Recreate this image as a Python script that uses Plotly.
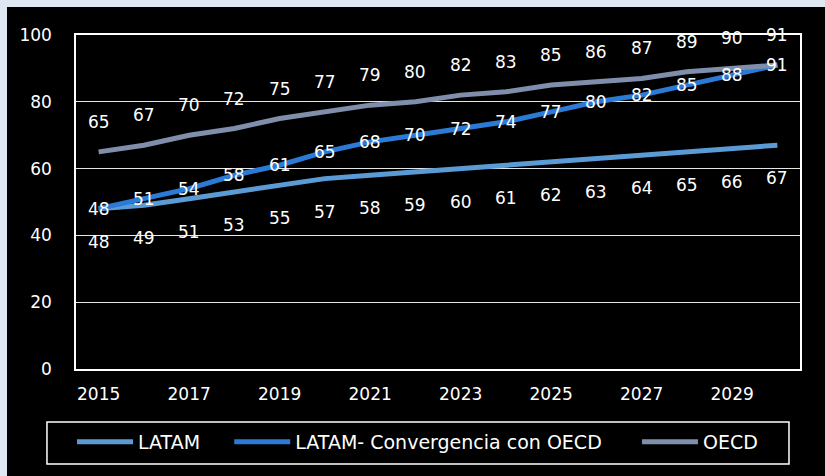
import plotly.graph_objects as go

years = [str(y) for y in range(2015, 2031)]
latam = [48, 49, 51, 53, 55, 57, 58, 59, 60, 61, 62, 63, 64, 65, 66, 67]
convergencia = [48, 51, 54, 58, 61, 65, 68, 70, 72, 74, 77, 80, 82, 85, 88, 91]
oecd = [65, 67, 70, 72, 75, 77, 79, 80, 82, 83, 85, 86, 87, 89, 90, 91]
tick_years = years[::2]

FONT = "DejaVu Sans"
NB = "\u00a0"  # extra room between legend entries

# name, values, colour, label shift (px)
series = [
    ("LATAM" + NB * 4, latam, "#5b9bd5", -33),
    ("LATAM- Convergencia con OECD" + NB * 5, convergencia, "#2b7bd6", 0),
    ("OECD", oecd, "#7f8fab", 30),
]

fig = go.Figure()
annotations = []
for name, vals, color, shift in series:
    fig.add_trace(go.Scatter(
        x=years, y=vals, mode="lines", name=name,
        line=dict(color=color, width=5),
    ))
    # value labels: above OECD, on the convergence line, below LATAM
    for i, v in enumerate(vals):
        annotations.append(dict(
            x=i, y=v, xref="x", yref="y", text=str(v), showarrow=False,
            yshift=shift, font=dict(family=FONT, size=17, color="white"),
        ))

# black panel over the light-blue page edge
fig.add_shape(type="rect", xref="paper", yref="paper",
              x0=-0.0953, x1=1.1, y0=-0.5, y1=1.0838,
              fillcolor="black", line=dict(width=0), layer="below")
# legend frame
fig.add_shape(type="rect", xref="paper", yref="paper",
              x0=-0.0401, x1=0.9848, y0=-0.2844, y1=-0.1587,
              line=dict(color="white", width=1.5))

fig.update_layout(
    width=825, height=476,
    margin=dict(l=76, r=25, t=35, b=107, autoexpand=False),
    paper_bgcolor="#dfe8f2",
    plot_bgcolor="black",
    font=dict(family=FONT, size=17, color="white"),
    annotations=annotations,
    showlegend=True,
    legend=dict(
        orientation="h", x=-0.0055, xanchor="left", y=-0.1617, yanchor="top",
        borderwidth=0, bgcolor="rgba(0,0,0,0)",
        font=dict(family=FONT, size=19, color="white"),
        itemwidth=56,
    ),
)
fig.update_xaxes(
    type="category", range=[-0.5, 15.5],
    tickmode="array", tickvals=tick_years, ticktext=tick_years,
    showgrid=False, showline=True, mirror=True, linecolor="white", linewidth=1.5,
    ticks="", ticklabelstandoff=9,
    tickfont=dict(family=FONT, size=17, color="white"),
)
fig.update_yaxes(
    range=[0, 100], dtick=20, showgrid=True, gridcolor="#e6e6e6", gridwidth=1,
    showline=True, mirror=True, linecolor="white", linewidth=1.5,
    zeroline=False, ticks="", ticklabelstandoff=19,
    tickfont=dict(family=FONT, size=17, color="white"),
)

fig.write_html("out.html", config={"displayModeBar": False},
               post_script="document.body.style.margin='0';")
